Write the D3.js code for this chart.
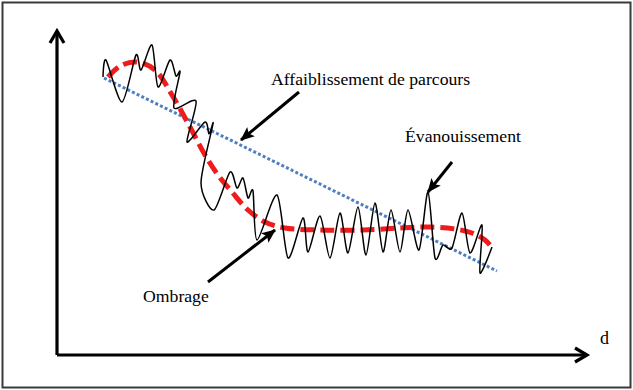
<!DOCTYPE html>
<html>
<head>
<meta charset="utf-8">
<script src="https://cdn.jsdelivr.net/npm/d3@7"></script>
<style>
  body { margin: 0; background: #fff; }
  svg { display: block; }
  .lbl { font-family: "Liberation Serif", "DejaVu Serif", serif; }
</style>
</head>
<body>
<div id="graph"></div>
<script>
// distance (x) and received level (y)
var fading_x = [46,49,65,79,84,95,101,113,119,123,117,139,130,148,152,156,144,157,173,180,186,191,196,200,220,231,246,251,263,273,283,291,301,309,318,326,334,343,351,362,371,378,386,395,405,413,425,423,435];
var fading_y = [278,295,253,300,285,310,268,295,279,283,247,254,213,233,221,231,172,145,183,167,177,157,164,115,160,97,137,103,139,97,142,102,148,100,152,103,145,103,145,105,163,97,110,107,142,102,130,82,108];

var shadow_x = [51,63,80,98,115,133,148,161,175,191,208,228,263,306,343,373,398,415,428,436];
var shadow_y = [278,289,293,285,260,228,200,180,163,145,133,127,125,125,127,128,126,122,115,106];

var pathloss_x = [47,440];
var pathloss_y = [277,84];

var labels = ["Affaiblissement de parcours", "Évanouissement", "Ombrage"];
var label_x = [214,348,86];
var label_y = [270,213,53];
// arrows: tail -> tip
var arrow_x0 = [242,395,151];
var arrow_y0 = [263,193,73];
var arrow_x1 = [184,371,218];
var arrow_y1 = [215,163,125];

var axis_label = "d";

var W = 633, H = 390;
var x = d3.scaleLinear().domain([0,530]).range([57,587]);
var y = d3.scaleLinear().domain([0,325]).range([355,30]);

var svg = d3.select("#graph").append("svg")
            .attr("width", W).attr("height", H);

svg.append("rect")
   .attr("x",2.5).attr("y",2.5)
   .attr("width",W-5).attr("height",H-5)
   .attr("fill","#fff").attr("stroke","#3a3a3a").attr("stroke-width",2);

var defs = svg.append("defs");
defs.append("marker")
    .attr("id","head")
    .attr("markerUnits","userSpaceOnUse")
    .attr("viewBox","0 0 14 12")
    .attr("refX",13).attr("refY",6)
    .attr("markerWidth",14).attr("markerHeight",12)
    .attr("orient","auto")
    .append("path")
    .attr("d","M0,0 L14,6 L0,12 L3,6 Z")
    .attr("fill","#000");

// axes
var axes = svg.append("g").attr("stroke","#000").attr("fill","none")
              .attr("stroke-width",3.2).attr("stroke-linejoin","miter");
axes.append("line").attr("x1",x(0)).attr("y1",y(0)).attr("x2",x(0)).attr("y2",y(323));
axes.append("line").attr("x1",x(0)).attr("y1",y(0)).attr("x2",x(529)).attr("y2",y(0));
axes.append("path")
    .attr("d", d3.line()([[x(0)-7,y(312)],[x(0),y(324)],[x(0)+7,y(312)]]));
axes.append("path")
    .attr("d", d3.line()([[x(518),y(0)-7],[x(530),y(0)],[x(518),y(0)+7]]));

svg.append("text").attr("class","lbl")
   .attr("x",x(543)).attr("y",y(11))
   .attr("font-size",18).text(axis_label);

// path loss (dotted blue)
svg.append("path")
   .attr("d", d3.line().x(d=>x(d[0])).y(d=>y(d[1]))(d3.zip(pathloss_x,pathloss_y)))
   .attr("fill","none").attr("stroke","#4f7fbf").attr("stroke-width",3)
   .attr("stroke-dasharray","3,2.2");

// shadowing (dashed red)
svg.append("path")
   .attr("d", d3.line().curve(d3.curveCatmullRom).x(d=>x(d[0])).y(d=>y(d[1]))(d3.zip(shadow_x,shadow_y)))
   .attr("fill","none").attr("stroke","#ee1c1c").attr("stroke-width",5)
   .attr("stroke-dasharray","14,6");

// fading (black)
svg.append("path")
   .attr("d", d3.line().curve(d3.curveCardinal.tension(0.2)).x(d=>x(d[0])).y(d=>y(d[1]))(d3.zip(fading_x,fading_y)))
   .attr("fill","none").attr("stroke","#000").attr("stroke-width",1.5)
   .attr("stroke-linejoin","round");

// annotation arrows
svg.append("g").selectAll("line").data(d3.range(labels.length))
   .enter().append("line")
   .attr("x1",i=>x(arrow_x0[i])).attr("y1",i=>y(arrow_y0[i]))
   .attr("x2",i=>x(arrow_x1[i])).attr("y2",i=>y(arrow_y1[i]))
   .attr("stroke","#000").attr("stroke-width",3)
   .attr("marker-end","url(#head)");

svg.append("g").selectAll("text").data(labels)
   .enter().append("text").attr("class","lbl")
   .attr("x",(d,i)=>x(label_x[i])).attr("y",(d,i)=>y(label_y[i]))
   .attr("font-size",17.7)
   .text(d=>d);
</script>
</body>
</html>
